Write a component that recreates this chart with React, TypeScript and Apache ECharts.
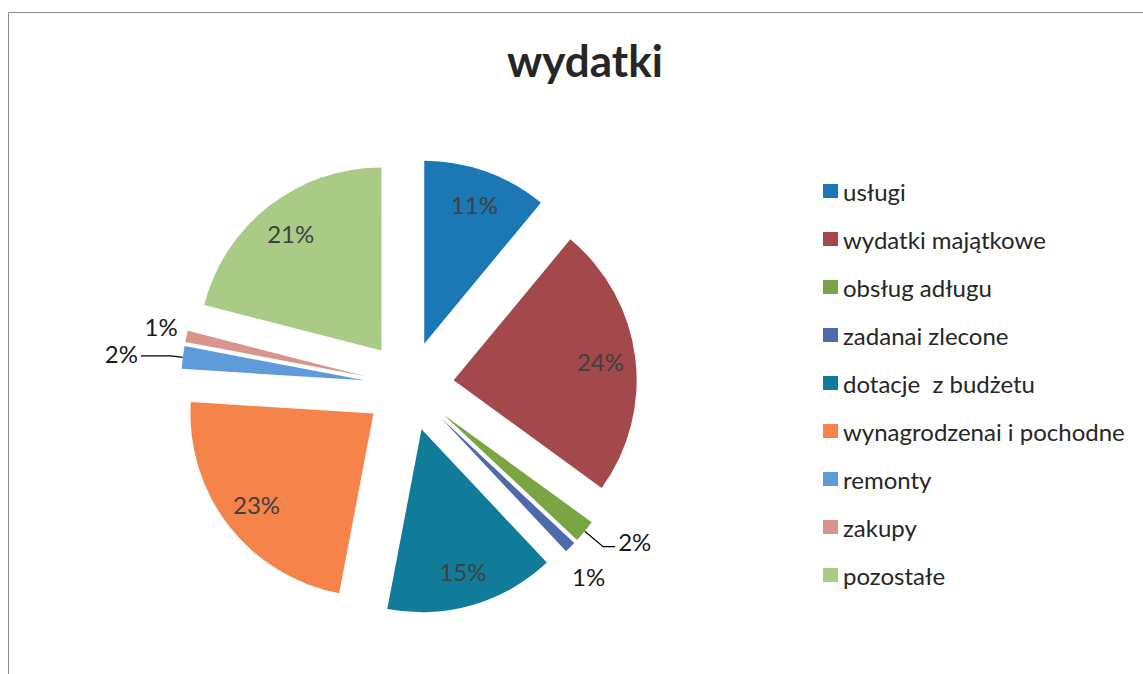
import React, { useEffect, useRef } from "react";
import * as echarts from "echarts";

const categories = [
  "usługi",
  "wydatki majątkowe",
  "obsług adługu",
  "zadanai zlecone",
  "dotacje  z budżetu",
  "wynagrodzenai i pochodne",
  "remonty",
  "zakupy",
  "pozostałe",
];
const values = [11, 24, 2, 1, 15, 23, 2, 1, 21];
const colors = [
  "#1b78b5",
  "#a3484b",
  "#79a543",
  "#4f6aab",
  "#117c99",
  "#f5834a",
  "#5f9bdb",
  "#d9948e",
  "#a9cb86",
];
const titleText = "wydatki";

// label placement style (not data): which slices carry outside labels with leaders
const outsideStyle: Record<number, any> = {
  2: { length: 24, length2: 12, line: true, dx: 0, dy: -5 },
  3: { length: 38, length2: 0, line: false, dx: -28, dy: 2 },
  6: { length: 12, length2: 30, line: true, dx: 0, dy: -2 },
  7: { length: 6, length2: 0, line: false, dx: 0, dy: -8 },
};

const FONT = "Lato, 'Open Sans', sans-serif";

export default function App() {
  const ref = useRef<HTMLDivElement>(null);
  useEffect(() => {
    if (!ref.current) return;
    const chart = echarts.init(ref.current, null, { renderer: "svg" });
    const center = [409, 386];
    const mainData = categories.map((name, i) => {
      const o = outsideStyle[i];
      return {
        name,
        value: values[i],
        selected: true,
        itemStyle: { color: colors[i] },
        label: o
          ? {
              show: true,
              position: "outside",
              formatter: "{d}%",
              fontSize: 24,
              color: "#1a1a1a",
              fontFamily: FONT,
              distanceToLabelLine: 3,
            }
          : { show: false },
        labelLine: o
          ? {
              show: o.line,
              length: o.length,
              length2: o.length2,
              smooth: false,
              lineStyle: { color: "#000", width: 1.3 },
            }
          : { show: false },
      };
    });
    const overlayData = categories.map((name, i) => ({
      name,
      value: values[i],
      selected: true,
      itemStyle: { color: "rgba(0,0,0,0)" },
      label: { show: !outsideStyle[i] },
    }));
    chart.setOption({
      animation: false,
      backgroundColor: "#ffffff",
      title: {
        text: titleText,
        left: 502,
        top: 33,
        textStyle: {
          fontFamily: FONT,
          fontSize: 44,
          fontWeight: "bold",
          color: "#262626",
        },
      },
      legend: {
        orient: "vertical",
        left: 818,
        top: 174,
        icon: "rect",
        itemWidth: 15,
        itemHeight: 14,
        itemGap: 24,
        selectedMode: false,
        textStyle: {
          fontFamily: FONT,
          fontSize: 24,
          lineHeight: 24,
          color: "#262626",
        },
        data: categories.map((name, i) => ({
          name,
          itemStyle: { color: colors[i] },
        })),
      },
      graphic: [
        {
          type: "rect",
          shape: { x: 8.5, y: 12.5, width: 1200, height: 700 },
          style: { fill: "none", stroke: "#8c8c8c", lineWidth: 1 },
          silent: true,
        },
      ],
      series: [
        {
          type: "pie",
          center,
          radius: 183,
          startAngle: 90,
          clockwise: true,
          selectedMode: "multiple",
          selectedOffset: 45,
          avoidLabelOverlap: false,
          percentPrecision: 0,
          itemStyle: { borderWidth: 0 },
          emphasis: { disabled: true },
          labelLayout: (p: any) => {
            const o = outsideStyle[p.dataIndex];
            return o ? { dx: o.dx, dy: o.dy } : {};
          },
          data: mainData,
        },
        {
          type: "pie",
          center,
          radius: 290,
          startAngle: 90,
          clockwise: true,
          selectedMode: "multiple",
          selectedOffset: 45,
          avoidLabelOverlap: false,
          percentPrecision: 0,
          silent: true,
          z: 3,
          itemStyle: { borderWidth: 0, color: "rgba(0,0,0,0)" },
          emphasis: { disabled: true },
          label: {
            show: true,
            position: "inside",
            formatter: "{d}%",
            fontSize: 24,
            color: "#404040",
            fontFamily: FONT,
          },
          labelLine: { show: false },
          data: overlayData,
        },
      ],
    });
    return () => chart.dispose();
  }, []);
  return (
    <div
      ref={ref}
      style={{ position: "fixed", left: 0, top: 0, width: 1143, height: 674 }}
    />
  );
}
